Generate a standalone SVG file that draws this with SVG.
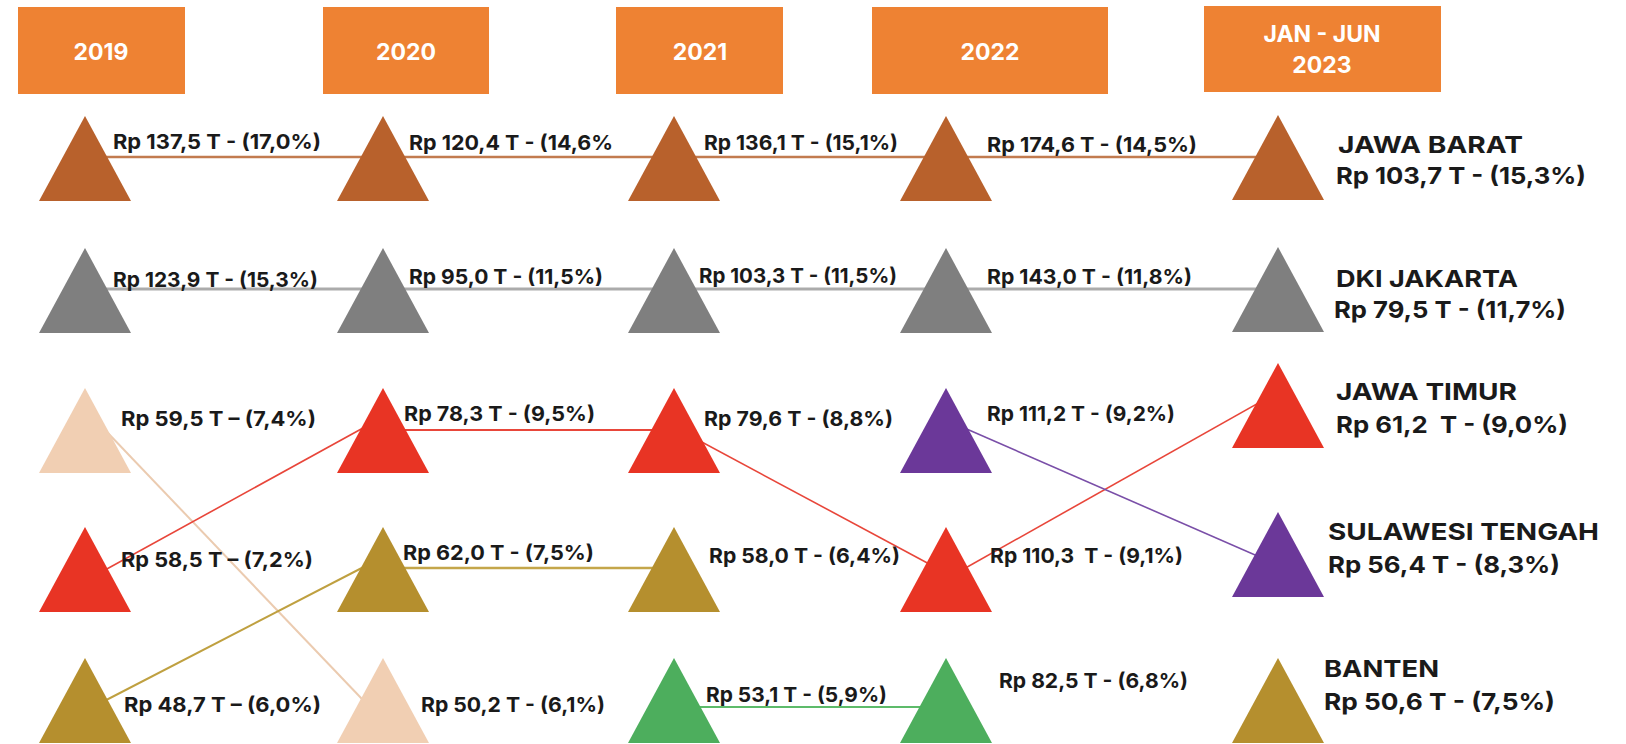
<svg xmlns="http://www.w3.org/2000/svg" width="1626" height="744" viewBox="0 0 1626 744">
<style>
.hdr{fill:#EE8233}
.ht{font-family:Inter,"Noto Sans",sans-serif;font-weight:700;font-size:23px;fill:#fff;text-anchor:middle}
.lb{font-family:Inter,"Noto Sans",sans-serif;font-weight:700;font-size:20.5px;fill:#1a1a1a}
.nm{font-family:Inter,"Noto Sans",sans-serif;font-weight:700;font-size:23.5px;fill:#1a1a1a}
.brown{fill:#B8612C}.gray{fill:#7F7F7F}.peach{fill:#F1CFB3}.red{fill:#E83424}.gold{fill:#B58F2E}.purple{fill:#6B3899}.green{fill:#4DAE5D}
.cn{fill:none}
</style>
<defs>
<path id="tri" d="M0 0 L46 85 L-46 85 Z"/>
</defs>
<g id="headers">
<g id="h2019"><rect class="hdr" x="18" y="7" width="167" height="87"/><text class="ht" x="101" y="60">2019</text></g>
<g id="h2020"><rect class="hdr" x="323" y="7" width="166" height="87"/><text class="ht" x="406" y="60">2020</text></g>
<g id="h2021"><rect class="hdr" x="616" y="7" width="167" height="87"/><text class="ht" x="700" y="60">2021</text></g>
<g id="h2022"><rect class="hdr" x="872" y="7" width="236" height="87"/><text class="ht" x="990" y="60">2022</text></g>
<g id="h2023"><rect class="hdr" x="1204" y="6" width="237" height="86"/><text class="ht" x="1322" y="42">JAN - JUN</text><text class="ht" x="1322" y="73">2023</text></g>
</g>
<g id="connectors" class="cn">
<line x1="85" y1="157" x2="1278" y2="157" stroke="#C27B4F" stroke-width="2.5"/>
<line x1="85" y1="289" x2="1278" y2="289" stroke="#ABABAB" stroke-width="3"/>
<line x1="85" y1="409" x2="383" y2="721" stroke="#EBCBB0" stroke-width="2"/>
<line x1="85" y1="581" x2="383" y2="417" stroke="#E8463A" stroke-width="1.6"/>
<line x1="383" y1="430" x2="674" y2="430" stroke="#E8463A" stroke-width="2"/>
<line x1="672" y1="426" x2="946" y2="573" stroke="#E8463A" stroke-width="1.6"/>
<line x1="946" y1="579" x2="1278" y2="392" stroke="#E8463A" stroke-width="1.6"/>
<line x1="946" y1="420" x2="1278" y2="565" stroke="#7A4FA8" stroke-width="1.6"/>
<line x1="85" y1="711" x2="383" y2="557" stroke="#BFA040" stroke-width="2"/>
<line x1="383" y1="568" x2="674" y2="568" stroke="#C4A64A" stroke-width="2.5"/>
<line x1="674" y1="707" x2="946" y2="707" stroke="#5DBB6A" stroke-width="2"/>
</g>
<g id="jawa-barat">
<use href="#tri" class="brown" x="85" y="116"/>
<use href="#tri" class="brown" x="383" y="116"/>
<use href="#tri" class="brown" x="674" y="116"/>
<use href="#tri" class="brown" x="946" y="116"/>
<use href="#tri" class="brown" x="1278" y="115"/>
<text class="lb" x="113" y="149" textLength="208" lengthAdjust="spacingAndGlyphs">Rp 137,5 T - (17,0%)</text>
<text class="lb" x="409" y="150" textLength="204" lengthAdjust="spacingAndGlyphs">Rp 120,4 T - (14,6%</text>
<text class="lb" x="704" y="150" textLength="194" lengthAdjust="spacingAndGlyphs">Rp 136,1 T - (15,1%)</text>
<text class="lb" x="987" y="152" textLength="210" lengthAdjust="spacingAndGlyphs">Rp 174,6 T - (14,5%)</text>
<text class="nm" x="1338" y="153" textLength="185" lengthAdjust="spacingAndGlyphs">JAWA BARAT</text>
<text class="nm" x="1336" y="184" textLength="250" lengthAdjust="spacingAndGlyphs">Rp 103,7 T - (15,3%)</text>
</g>
<g id="dki-jakarta">
<use href="#tri" class="gray" x="85" y="248"/>
<use href="#tri" class="gray" x="383" y="248"/>
<use href="#tri" class="gray" x="674" y="248"/>
<use href="#tri" class="gray" x="946" y="248"/>
<use href="#tri" class="gray" x="1278" y="247"/>
<text class="lb" x="113" y="287" textLength="205" lengthAdjust="spacingAndGlyphs">Rp 123,9 T - (15,3%)</text>
<text class="lb" x="409" y="284" textLength="194" lengthAdjust="spacingAndGlyphs">Rp 95,0 T - (11,5%)</text>
<text class="lb" x="699" y="283" textLength="198" lengthAdjust="spacingAndGlyphs">Rp 103,3 T - (11,5%)</text>
<text class="lb" x="987" y="284" textLength="205" lengthAdjust="spacingAndGlyphs">Rp 143,0 T - (11,8%)</text>
<text class="nm" x="1336" y="287" textLength="182" lengthAdjust="spacingAndGlyphs">DKI JAKARTA</text>
<text class="nm" x="1334" y="318" textLength="232" lengthAdjust="spacingAndGlyphs">Rp 79,5 T - (11,7%)</text>
</g>
<g id="jawa-timur">
<use href="#tri" class="peach" x="85" y="388"/>
<use href="#tri" class="red" x="383" y="388"/>
<use href="#tri" class="red" x="674" y="388"/>
<use href="#tri" class="purple" x="946" y="388"/>
<use href="#tri" class="red" x="1278" y="363"/>
<text class="lb" x="121" y="426" textLength="195" lengthAdjust="spacingAndGlyphs">Rp 59,5 T – (7,4%)</text>
<text class="lb" x="404" y="421" textLength="191" lengthAdjust="spacingAndGlyphs">Rp 78,3 T - (9,5%)</text>
<text class="lb" x="704" y="426" textLength="189" lengthAdjust="spacingAndGlyphs">Rp 79,6 T - (8,8%)</text>
<text class="lb" x="987" y="421" textLength="188" lengthAdjust="spacingAndGlyphs">Rp 111,2 T - (9,2%)</text>
<text class="nm" x="1336" y="400" textLength="181" lengthAdjust="spacingAndGlyphs">JAWA TIMUR</text>
<text class="nm" x="1336" y="433" textLength="232" lengthAdjust="spacingAndGlyphs" xml:space="preserve">Rp 61,2  T - (9,0%)</text>
</g>
<g id="sulawesi-tengah">
<use href="#tri" class="red" x="85" y="527"/>
<use href="#tri" class="gold" x="383" y="527"/>
<use href="#tri" class="gold" x="674" y="527"/>
<use href="#tri" class="red" x="946" y="527"/>
<use href="#tri" class="purple" x="1278" y="512"/>
<text class="lb" x="121" y="567" textLength="192" lengthAdjust="spacingAndGlyphs">Rp 58,5 T – (7,2%)</text>
<text class="lb" x="403" y="560" textLength="191" lengthAdjust="spacingAndGlyphs">Rp 62,0 T - (7,5%)</text>
<text class="lb" x="709" y="563" textLength="191" lengthAdjust="spacingAndGlyphs">Rp 58,0 T - (6,4%)</text>
<text class="lb" x="990" y="563" textLength="193" lengthAdjust="spacingAndGlyphs" xml:space="preserve">Rp 110,3  T - (9,1%)</text>
<text class="nm" x="1328" y="540" textLength="271" lengthAdjust="spacingAndGlyphs">SULAWESI TENGAH</text>
<text class="nm" x="1328" y="573" textLength="232" lengthAdjust="spacingAndGlyphs">Rp 56,4 T - (8,3%)</text>
</g>
<g id="banten">
<use href="#tri" class="gold" x="85" y="658"/>
<use href="#tri" class="peach" x="383" y="658"/>
<use href="#tri" class="green" x="674" y="658"/>
<use href="#tri" class="green" x="946" y="658"/>
<use href="#tri" class="gold" x="1278" y="658"/>
<text class="lb" x="124" y="712" textLength="197" lengthAdjust="spacingAndGlyphs">Rp 48,7 T – (6,0%)</text>
<text class="lb" x="421" y="712" textLength="184" lengthAdjust="spacingAndGlyphs">Rp 50,2 T - (6,1%)</text>
<text class="lb" x="706" y="702" textLength="181" lengthAdjust="spacingAndGlyphs">Rp 53,1 T - (5,9%)</text>
<text class="lb" x="999" y="688" textLength="189" lengthAdjust="spacingAndGlyphs">Rp 82,5 T - (6,8%)</text>
<text class="nm" x="1324" y="677" textLength="115" lengthAdjust="spacingAndGlyphs">BANTEN</text>
<text class="nm" x="1324" y="710" textLength="231" lengthAdjust="spacingAndGlyphs">Rp 50,6 T - (7,5%)</text>
</g>
</svg>
